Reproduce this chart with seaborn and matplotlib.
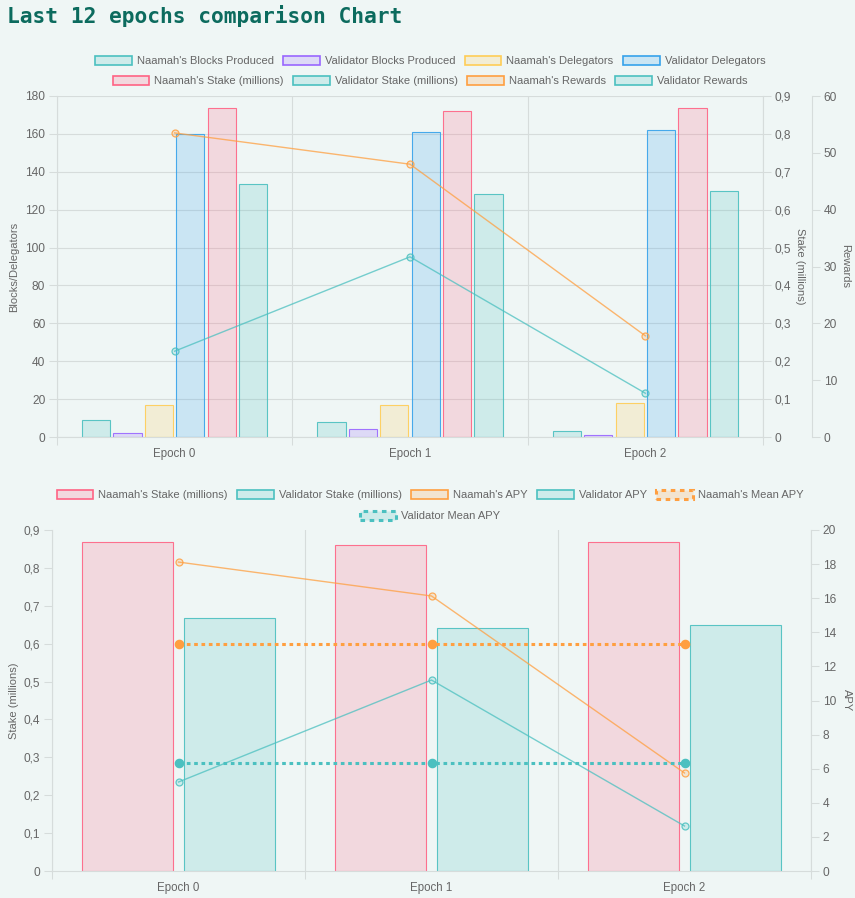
import numpy as np
import pandas as pd
import matplotlib
matplotlib.use("Agg")
import matplotlib.pyplot as plt
import seaborn as sns
from matplotlib.patches import Rectangle
from matplotlib.ticker import FixedLocator, FuncFormatter

# ---------------- data ----------------
epochs = ["Epoch 0", "Epoch 1", "Epoch 2"]
naamah_blocks = [9, 8, 3]
validator_blocks = [2, 4, 1]
naamah_delegators = [17, 17, 18]
validator_delegators = [160, 161, 162]
naamah_stake = [0.868, 0.860, 0.868]
validator_stake = [0.668, 0.641, 0.649]
naamah_rewards = [53.5, 48.0, 17.8]
validator_rewards = [15.1, 31.7, 7.7]
naamah_apy = [18.12, 16.13, 5.75]
validator_apy = [5.22, 11.20, 2.64]
naamah_mean_apy = [13.33, 13.33, 13.33]
validator_mean_apy = [6.35, 6.35, 6.35]

blocks_ticks = [0, 20, 40, 60, 80, 100, 120, 140, 160, 180]
stake_ticks = [0, 0.1, 0.2, 0.3, 0.4, 0.5, 0.6, 0.7, 0.8, 0.9]
rewards_ticks = [0, 10, 20, 30, 40, 50, 60]
apy_ticks = [0, 2, 4, 6, 8, 10, 12, 14, 16, 18, 20]

title = "Last 12 epochs comparison Chart"
top_levels = ["Naamah's Blocks Produced", "Validator Blocks Produced",
              "Naamah's Delegators", "Validator Delegators",
              "Naamah's Stake (millions)", "Validator Stake (millions)"]
bottom_levels = ["Naamah's Stake (millions)", "Validator Stake (millions)"]

# ---------------- style ----------------
def rgb(r, g, b):
    return (r / 255, g / 255, b / 255)

TEAL = rgb(75, 192, 192)
PURPLE = rgb(153, 102, 255)
YELLOW = rgb(255, 205, 86)
BLUE = rgb(54, 162, 235)
RED = rgb(255, 99, 132)
ORANGE = rgb(255, 159, 64)
BG = "#eff6f5"
GRID = "#d6dcdb"
TXT = "#666666"
FS = 8.6
LFS = 8.0

plt.rcParams["font.family"] = ["Liberation Sans", "DejaVu Sans"]

top_palette = dict(zip(top_levels, [TEAL, PURPLE, YELLOW, BLUE, RED, TEAL]))
bottom_palette = dict(zip(bottom_levels, [RED, TEAL]))

df_left = pd.DataFrame({
    "epoch": epochs * 4,
    "value": naamah_blocks + validator_blocks + naamah_delegators + validator_delegators,
    "series": [s for s in top_levels[:4] for _ in epochs],
})
df_stake = pd.DataFrame({
    "epoch": epochs * 2,
    "value": naamah_stake + validator_stake,
    "series": [s for s in top_levels[4:] for _ in epochs],
})
df_bottom = pd.DataFrame({
    "epoch": epochs * 2,
    "value": naamah_stake + validator_stake,
    "series": [s for s in bottom_levels for _ in epochs],
})

fig = plt.figure(figsize=(8.55, 8.98), dpi=100)
fig.patch.set_facecolor(BG)

W, H = 855, 898
def box(x0, y0, x1, y1):
    return [x0 / W, 1 - y1 / H, (x1 - x0) / W, (y1 - y0) / H]

def restyle_bars(ax, lw=0.8):
    for p in ax.patches:
        fc = p.get_facecolor()
        p.set_facecolor((fc[0], fc[1], fc[2], 0.2))
        p.set_edgecolor((fc[0], fc[1], fc[2], 0.9))
        p.set_linewidth(lw)

def style_line(ax, color, alpha=0.75, lw=1.0, ms=5.0, ls="-", filled=False):
    ln = ax.lines[-1]
    ln.set_color((*color, alpha))
    ln.set_linewidth(lw)
    ln.set_linestyle(ls)
    ln.set_marker("o")
    ln.set_markersize(ms)
    ln.set_markeredgecolor((*color, 1.0 if filled else 0.85))
    ln.set_markerfacecolor((*color, 1.0 if filled else 0.2))
    ln.set_markeredgewidth(0.9)

def comma_fmt(v, pos):
    if abs(v) < 1e-9:
        return "0"
    return f"{v:.1f}".replace(".", ",")

def style_y(ax, side):
    ax.tick_params(axis="y", which="major", length=6, width=0.75, color=GRID,
                   labelcolor=TXT, labelsize=FS, pad=2.5)
    for s in ["top", "left", "right", "bottom"]:
        ax.spines[s].set_visible(False)
    ax.spines[side].set_visible(True)
    ax.spines[side].set_color(GRID)
    ax.spines[side].set_linewidth(0.8)

# ================= TOP CHART =================
ax = fig.add_axes(box(57, 96, 763, 437))
ax.set_facecolor(BG)
sns.barplot(data=df_left, x="epoch", y="value", hue="series", hue_order=top_levels,
            palette=top_palette, width=0.8, gap=0.1, saturation=1, legend=False,
            errorbar=None, ax=ax)
restyle_bars(ax)

ax_s = ax.twinx()
ax_s.patch.set_visible(False)
sns.barplot(data=df_stake, x="epoch", y="value", hue="series", hue_order=top_levels,
            palette=top_palette, width=0.8, gap=0.1, saturation=1, legend=False,
            errorbar=None, ax=ax_s)
restyle_bars(ax_s)

ax_r = ax.twinx()
ax_r.patch.set_visible(False)
ax_r.spines["right"].set_position(("axes", (812 - 57) / 706))
sns.pointplot(x=epochs, y=naamah_rewards, color=ORANGE, errorbar=None, ax=ax_r)
style_line(ax_r, ORANGE)
sns.pointplot(x=epochs, y=validator_rewards, color=TEAL, errorbar=None, ax=ax_r)
style_line(ax_r, TEAL)

ax.set_ylim(0, 180)
ax.yaxis.set_major_locator(FixedLocator(blocks_ticks))
ax_s.set_ylim(0, 0.9)
ax_s.yaxis.set_major_locator(FixedLocator(stake_ticks))
ax_s.yaxis.set_major_formatter(FuncFormatter(comma_fmt))
ax_r.set_ylim(0, 60)
ax_r.yaxis.set_major_locator(FixedLocator(rewards_ticks))

style_y(ax, "left")
style_y(ax_s, "right")
style_y(ax_r, "right")
ax.spines["bottom"].set_visible(True)
ax.spines["bottom"].set_color(GRID)
ax.spines["bottom"].set_linewidth(0.8)
ax.yaxis.grid(True, color=GRID, linewidth=0.8)
ax.set_axisbelow(True)

ax.set_ylabel("Blocks/Delegators", color=TXT, fontsize=8.0, ha="center", va="center")
ax.yaxis.set_label_coords((14 - 57) / 706, 0.5)
ax_s.set_ylabel("Stake (millions)", color=TXT, fontsize=8.0, rotation=270, ha="center", va="center")
ax_s.yaxis.set_label_coords((800 - 57) / 706, 0.5)
ax_r.set_ylabel("Rewards", color=TXT, fontsize=8.0, rotation=270, ha="center", va="center")
ax_r.yaxis.set_label_coords((845 - 57) / 706, 0.5)
ax.set_xlabel("")

# ================= BOTTOM CHART =================
axb = fig.add_axes(box(52, 530, 811, 871))
axb.set_facecolor(BG)
sns.barplot(data=df_bottom, x="epoch", y="value", hue="series", hue_order=bottom_levels,
            palette=bottom_palette, width=0.8, gap=0.1, saturation=1, legend=False,
            errorbar=None, ax=axb)
restyle_bars(axb)

ax_a = axb.twinx()
ax_a.patch.set_visible(False)
sns.pointplot(x=epochs, y=naamah_apy, color=ORANGE, errorbar=None, ax=ax_a)
style_line(ax_a, ORANGE)
sns.pointplot(x=epochs, y=validator_apy, color=TEAL, errorbar=None, ax=ax_a)
style_line(ax_a, TEAL)
sns.pointplot(x=epochs, y=naamah_mean_apy, color=ORANGE, errorbar=None, ax=ax_a)
style_line(ax_a, ORANGE, alpha=1.0, lw=2.2, ms=6.0, ls=(0, (1.2, 1.2)), filled=True)
sns.pointplot(x=epochs, y=validator_mean_apy, color=TEAL, errorbar=None, ax=ax_a)
style_line(ax_a, TEAL, alpha=1.0, lw=2.2, ms=6.0, ls=(0, (1.2, 1.2)), filled=True)

axb.set_ylim(0, 0.9)
axb.yaxis.set_major_locator(FixedLocator(stake_ticks))
axb.yaxis.set_major_formatter(FuncFormatter(comma_fmt))
ax_a.set_ylim(0, 20)
ax_a.yaxis.set_major_locator(FixedLocator(apy_ticks))
style_y(axb, "left")
style_y(ax_a, "right")
axb.spines["bottom"].set_visible(True)
axb.spines["bottom"].set_color(GRID)
axb.spines["bottom"].set_linewidth(0.8)
axb.yaxis.grid(False)
axb.set_ylabel("Stake (millions)", color=TXT, fontsize=8.0, ha="center", va="center")
axb.yaxis.set_label_coords((14 - 52) / 759, 0.5)
ax_a.set_ylabel("APY", color=TXT, fontsize=8.0, rotation=270, ha="center", va="center")
ax_a.yaxis.set_label_coords((847 - 52) / 759, 0.5)
axb.set_xlabel("")

# x axes (category boundaries as minor ticks/grid)
for a in (ax, axb):
    a.set_xlim(-0.5, 2.5)
    a.set_xticks(range(len(epochs)))
    a.set_xticklabels(epochs)
    a.set_xticks([-0.5, 0.5, 1.5, 2.5], minor=True)
    a.tick_params(axis="x", which="major", length=0, labelcolor=TXT, labelsize=8.3, pad=8)
    a.tick_params(axis="x", which="minor", length=6, width=0.75, color=GRID)
    a.xaxis.grid(True, which="minor", color=GRID, linewidth=0.8)
    a.xaxis.grid(False, which="major")

# ================= LEGENDS =================
def patch(color, ls="-", lw=1.2):
    return Rectangle((0, 0), 1, 1, facecolor=(*color, 0.2), edgecolor=(*color, 1.0),
                     linewidth=lw, linestyle=ls)

def row_legend(items, cy, cx=430):
    handles = [patch(c, ls, lw) for (_, c, ls, lw) in items]
    labels = [t for (t, _, _, _) in items]
    leg = fig.legend(handles, labels, loc="center", bbox_to_anchor=(cx / W, 1 - cy / H),
                     ncol=len(items), frameon=False, fontsize=LFS, handlelength=3.3,
                     handleheight=0.95, handletextpad=0.45, columnspacing=0.85,
                     borderpad=0, borderaxespad=0, labelcolor=TXT)
    return leg

row_legend([("Naamah's Blocks Produced", TEAL, "-", 1.2),
            ("Validator Blocks Produced", PURPLE, "-", 1.2),
            ("Naamah's Delegators", YELLOW, "-", 1.2),
            ("Validator Delegators", BLUE, "-", 1.2)], 61)
row_legend([("Naamah's Stake (millions)", RED, "-", 1.2),
            ("Validator Stake (millions)", TEAL, "-", 1.2),
            ("Naamah's Rewards", ORANGE, "-", 1.2),
            ("Validator Rewards", TEAL, "-", 1.2)], 81)
row_legend([("Naamah's Stake (millions)", RED, "-", 1.2),
            ("Validator Stake (millions)", TEAL, "-", 1.2),
            ("Naamah's APY", ORANGE, "-", 1.2),
            ("Validator APY", TEAL, "-", 1.2),
            ("Naamah's Mean APY", ORANGE, (0, (1.5, 1.5)), 2.2)], 495)
row_legend([("Validator Mean APY", TEAL, (0, (1.5, 1.5)), 2.2)], 516)

fig.text(7 / W, 1 - 16 / H, title, family="DejaVu Sans Mono", fontweight="bold",
         fontsize=15.3, color="#0c6b5e", ha="left", va="center")

fig.savefig("out.png", dpi=100, facecolor=BG)
